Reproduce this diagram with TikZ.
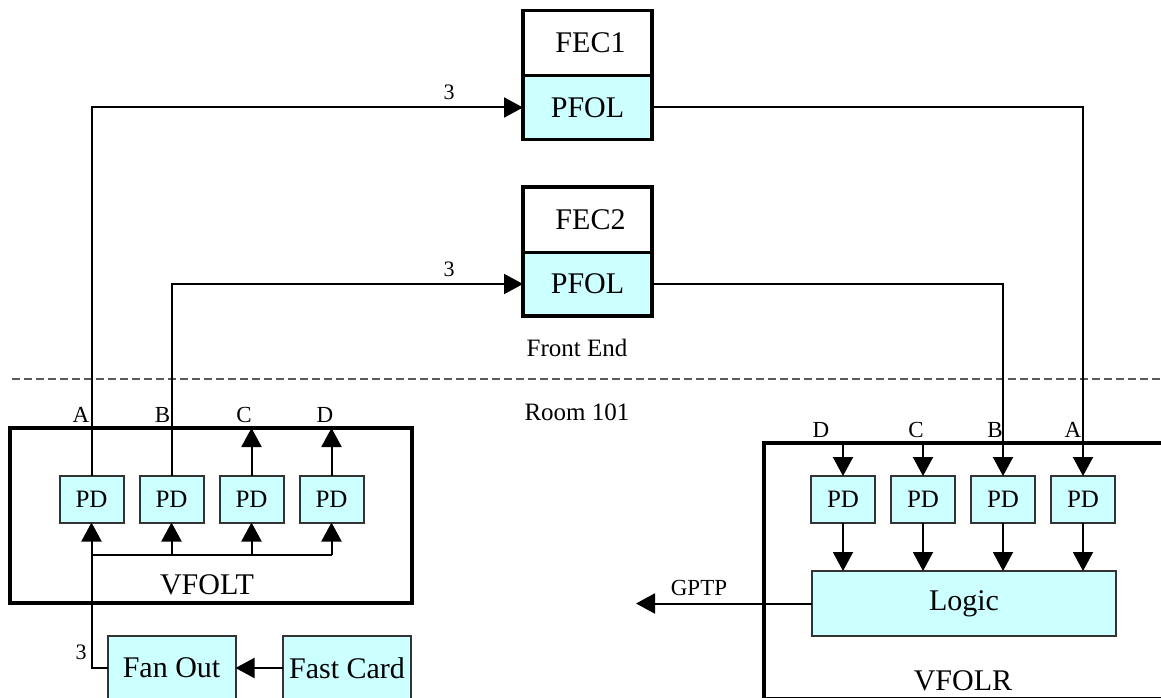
\documentclass[tikz,border=0pt]{standalone}
\usepackage{fontspec}
\setmainfont{Liberation Serif}
\usetikzlibrary{arrows.meta}

\definecolor{cyanfill}{HTML}{CCFFFF}
\newcommand\fsBig{\fontsize{30pt}{36pt}\selectfont}
\newcommand\fsPD{\fontsize{25pt}{30pt}\selectfont}
\newcommand\fsMid{\fontsize{25pt}{30pt}\selectfont}
\newcommand\fsTag{\fontsize{23pt}{28pt}\selectfont}
\newcommand\fsNum{\fontsize{22pt}{26pt}\selectfont}

\tikzset{
  plain/.style={inner sep=0pt, outer sep=0pt},
  pdbox/.style={plain, draw=black!80, line width=2pt, fill=cyanfill,
                minimum width=64pt, minimum height=47pt, font=\fsPD},
  cardbox/.style={plain, draw=black!80, line width=2pt, fill=cyanfill,
                  minimum width=128pt, minimum height=64pt, font=\fsBig},
  fechead/.style={plain, fill=white, minimum width=129pt, minimum height=65pt, font=\fsBig},
  fecbody/.style={plain, fill=cyanfill, minimum width=129pt, minimum height=64pt, font=\fsBig},
  frame/.style={plain, draw=black, line width=4pt},
  wire/.style={line width=2pt},
  arr/.style={line width=2pt, -{Triangle[length=19pt,width=20pt]}},
  tag/.style={plain, anchor=base, font=\fsTag},
}

\begin{document}
\begin{tikzpicture}[x=1pt, y=-1pt]
\useasboundingbox (0,0) rectangle (1161,698);
\clip (0,0) rectangle (1161,698);

% ---- front end: the two FEC crates ----
\node[fechead] (fec1top) at (587.5,43) {\hspace*{6pt}FEC1};
\node[fecbody] (fec1) at (587.5,107.5) {PFOL};
\draw[line width=3.5pt] (fec1top.north west) rectangle (fec1.south east);
\draw[line width=3pt] (fec1.north west) -- (fec1.north east);

\node[fechead] (fec2top) at (587.5,219.5) {\hspace*{6pt}FEC2};
\node[fecbody] (fec2) at (587.5,284) {PFOL};
\draw[line width=3.5pt] (fec2top.north west) rectangle (fec2.south east);
\draw[line width=3pt] (fec2.north west) -- (fec2.north east);

\node[plain, font=\fsMid] (fe) at (577,348) {Front End};
\node[plain, font=\fsMid] (room) at (577,412) {Room 101};

% boundary between front end and room 101
\coordinate (dashL) at (12,379);
\coordinate (dashR) at (1165,379);
\draw[black!65, line width=1.6pt, dash pattern=on 8pt off 4pt] (dashL) -- (dashR);

% ---- VFOLT transmitter ----
\node[frame, minimum width=402pt, minimum height=175pt] (vfolt) at (211,515.5) {};
\node[plain, font=\fsBig] (vfoltlbl) at (207,585) {VFOLT};
\node[pdbox] (tpdA) at (91.5,499) {PD};
\node[pdbox] (tpdB) at (171.5,499) {PD};
\node[pdbox] (tpdC) at (251.5,499) {PD};
\node[pdbox] (tpdD) at (331.5,499) {PD};

\node[cardbox] (fan) at (171.5,668) {Fan Out};
\node[cardbox] (card) at (347,668) {Fast Card};
\draw[arr] (card.west) -- (fan.east);

% fan-out feed into the four PDs
\coordinate (bus) at (91.5,555);
\draw[wire] (fan.west) -| (bus) -- (bus -| tpdD.south);
\foreach \p in {tpdA,tpdB,tpdC,tpdD}
  \draw[arr] (bus -| \p.south) -- (\p.south);
\node[plain, font=\fsNum] (n3c) at (81,652) {3};

% outputs leaving the transmitter
\draw[arr] (tpdA.north) |- (fec1.west);
\draw[arr] (tpdB.north) |- (fec2.west);
\draw[arr] (tpdC.north) -- (tpdC.north |- vfolt.north);
\draw[arr] (tpdD.north) -- (tpdD.north |- vfolt.north);
\node[plain, font=\fsNum] (n3a) at (449,92) {3};
\node[plain, font=\fsNum] (n3b) at (449,269) {3};

\node[tag] (tA) at (81,422) {A};
\node[tag] (tB) at (162.5,422) {B};
\node[tag] (tC) at (244,422) {C};
\node[tag] (tD) at (325,422) {D};

% ---- VFOLR receiver ----
\node[frame, minimum width=406pt, minimum height=256pt] (vfolr) at (967,571) {};
\node[plain, font=\fsBig] (vfolrlbl) at (963,681) {VFOLR};
\node[pdbox] (rpdD) at (843,499.5) {PD};
\node[pdbox] (rpdC) at (923,499.5) {PD};
\node[pdbox] (rpdB) at (1003,499.5) {PD};
\node[pdbox] (rpdA) at (1083,499.5) {PD};
\node[plain, draw=black!80, line width=2pt, fill=cyanfill,
      minimum width=304pt, minimum height=65pt, font=\fsBig] (logic) at (964,603.5) {Logic};

\draw[arr] (fec1.east) -| (rpdA.north);
\draw[arr] (fec2.east) -| (rpdB.north);
\draw[arr] (rpdC.north |- vfolr.north) -- (rpdC.north);
\draw[arr] (rpdD.north |- vfolr.north) -- (rpdD.north);
\foreach \p in {rpdA,rpdB,rpdC,rpdD}
  \draw[arr] (\p.south) -- (\p.south |- logic.north);

\coordinate (gptpEnd) at (636,603.5);
\draw[arr] (logic.west) -- (gptpEnd);
\node[plain, font=\fsTag] (gptp) at (699,588) {GPTP};

\node[tag] (rD) at (821,437) {D};
\node[tag] (rC) at (916,437) {C};
\node[tag] (rB) at (995,437) {B};
\node[tag] (rA) at (1073,437) {A};
\end{tikzpicture}
\end{document}
